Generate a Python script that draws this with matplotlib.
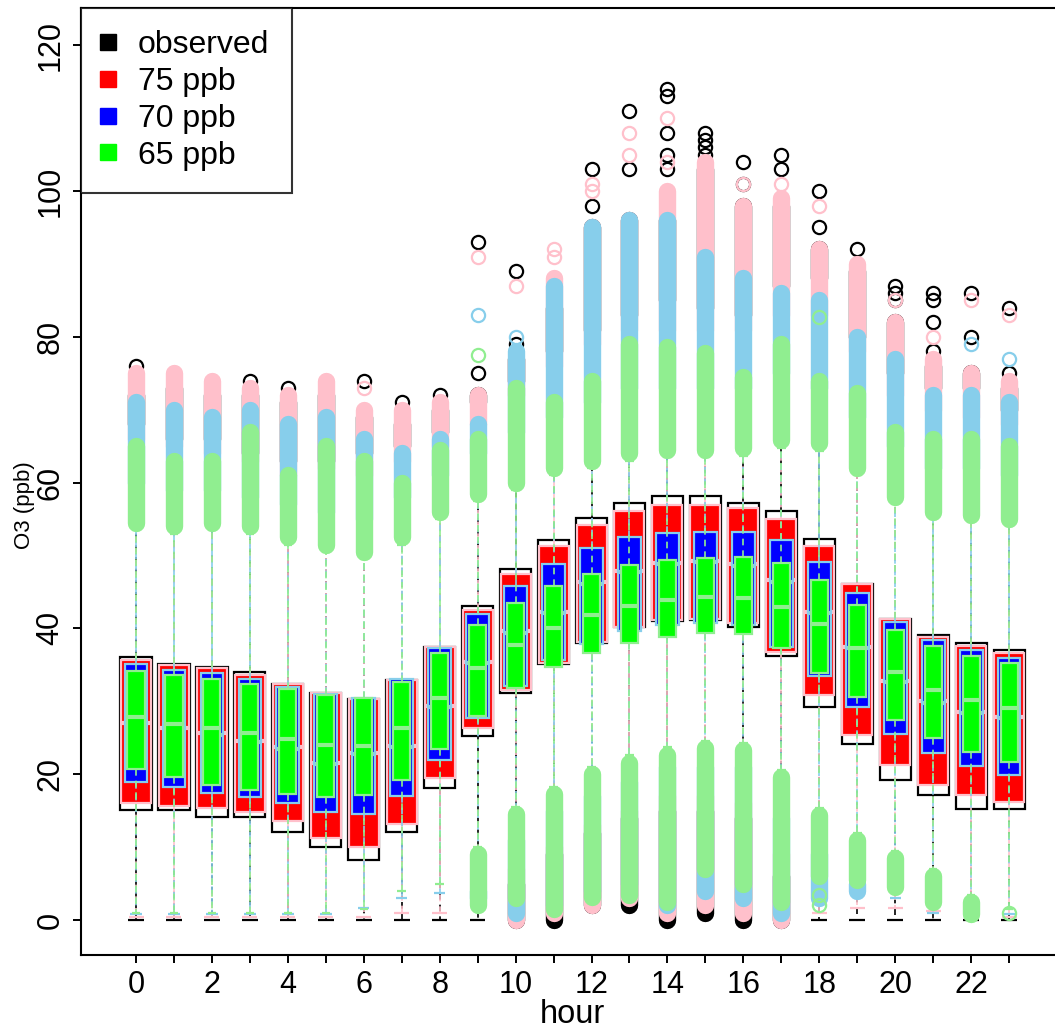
import matplotlib
matplotlib.use("Agg")
import matplotlib.pyplot as plt
from matplotlib.lines import Line2D

plt.rcParams["font.family"] = ["Liberation Sans", "DejaVu Sans"]

# Data, O3 in ppb by hour of day

hours = list(range(24))

# box stats per hour: (whisker low, q1, median, q3, whisker high)
obs_box = [
    (0, 15.1, 27.2, 36.1, 67), (0, 15.1, 26.5, 35.1, 65), (0, 14.1, 25.7, 34.7, 65),
    (0, 14.1, 24.8, 34.0, 63), (0, 12.1, 23.8, 32.4, 62), (0, 10.0, 21.8, 31.1, 62),
    (0, 8.2, 23.0, 30.3, 63), (0, 12.1, 24.0, 32.9, 64), (0, 18.1, 29.5, 37.4, 66),
    (0, 25.2, 35.5, 43.1, 70), (6, 31.1, 39.8, 48.1, 73), (10, 35.1, 42.5, 52.1, 77),
    (13, 38.0, 46.4, 55.1, 80), (15, 40.2, 48.0, 57.2, 82), (16, 41.0, 49.0, 58.2, 84),
    (16, 41.2, 49.3, 58.2, 83), (15, 40.2, 48.8, 57.2, 82), (7, 36.2, 46.6, 56.1, 86),
    (0, 29.2, 42.3, 52.3, 87), (0, 24.1, 37.5, 46.1, 79), (0, 19.2, 32.8, 41.3, 74),
    (0, 17.1, 30.0, 39.1, 72), (0, 15.2, 28.6, 38.0, 72), (0, 15.2, 27.9, 37.0, 69),
]
red_box = [
    (0.4, 16.0, 27.0, 35.7, 65), (0.4, 15.6, 26.4, 35.0, 64), (0.4, 15.4, 25.6, 34.6, 63),
    (0.4, 14.8, 24.6, 33.6, 62), (0.4, 13.6, 23.7, 32.4, 60), (0.4, 11.2, 21.6, 31.1, 61),
    (0.4, 10.0, 22.9, 30.3, 60), (1.0, 13.2, 23.9, 32.9, 62), (1.0, 19.5, 29.4, 37.4, 64),
    (2.0, 26.3, 35.4, 42.5, 67), (8, 31.6, 39.6, 47.5, 71), (11, 35.3, 42.3, 51.3, 75),
    (14, 38.1, 46.3, 54.2, 78), (16, 40.2, 47.9, 56.1, 80), (18, 41.2, 49.0, 56.9, 80),
    (18, 41.3, 49.3, 56.9, 80), (17, 40.7, 48.8, 56.5, 80), (10, 36.8, 46.6, 55.0, 82),
    (1.0, 30.9, 42.3, 51.3, 82), (1.6, 25.4, 37.5, 46.1, 77), (1.6, 21.3, 32.8, 41.3, 71),
    (1.2, 18.5, 30.0, 38.8, 69), (0.4, 17.1, 28.6, 37.6, 68), (0.4, 16.2, 27.9, 36.6, 67),
]
blue_box = [
    (0.8, 18.9, 26.8, 35.1, 59), (0.8, 18.2, 26.2, 34.3, 58), (0.8, 17.4, 25.4, 33.9, 58),
    (0.8, 16.9, 24.4, 33.1, 57), (0.8, 16.0, 23.5, 32.0, 56), (0.8, 14.8, 21.4, 31.0, 55),
    (1.6, 14.5, 22.8, 30.4, 54), (3.0, 17.0, 23.7, 33.0, 57), (3.7, 21.9, 29.2, 37.3, 60),
    (5.0, 27.7, 35.3, 42.0, 63), (12, 32.1, 39.4, 45.8, 66), (16, 35.7, 42.1, 48.8, 68),
    (18, 37.9, 46.1, 51.0, 70), (20, 39.6, 47.7, 52.5, 72), (22, 40.5, 48.8, 53.1, 72),
    (22, 40.7, 49.1, 53.2, 72), (22, 40.5, 48.6, 53.2, 72), (15, 37.4, 46.4, 52.1, 74),
    (10, 33.5, 42.1, 49.1, 72), (6, 29.2, 37.3, 44.8, 68), (3, 25.5, 32.6, 40.9, 64),
    (1, 22.9, 29.8, 38.4, 61), (0.8, 21.1, 28.4, 37.0, 61), (0.8, 19.9, 27.7, 35.9, 60),
]
green_box = [
    (1.0, 20.7, 27.8, 34.2, 53.5), (1.0, 19.6, 26.9, 33.6, 53), (1.0, 18.5, 26.3, 33.1, 53.5),
    (1.0, 17.8, 25.7, 32.4, 53), (1.0, 17.3, 24.8, 31.7, 51.5), (1.0, 16.9, 24.0, 30.9, 50.5),
    (1.5, 17.1, 23.9, 30.4, 49.5), (4.0, 19.2, 26.3, 32.7, 51.5), (5.0, 23.5, 30.5, 36.6, 55),
    (10, 28.0, 34.6, 40.5, 57.5), (15.5, 31.8, 37.7, 43.5, 59), (18.3, 34.7, 40.0, 45.8, 61),
    (21, 36.6, 41.8, 47.5, 62), (22.6, 38.0, 43.1, 48.7, 63), (23.7, 38.8, 43.9, 49.4, 63.5),
    (24.6, 39.4, 44.3, 49.7, 63.5), (24.3, 39.2, 44.2, 49.8, 63.7), (20.6, 37.3, 42.9, 49.0, 64.8),
    (15.4, 33.9, 40.6, 46.6, 64.4), (12, 30.6, 37.3, 43.2, 61), (9.5, 27.4, 34.0, 39.8, 57),
    (7, 25.0, 31.5, 37.6, 55), (3.5, 23.0, 30.2, 36.2, 54.6), (1.5, 21.7, 29.1, 35.3, 54),
]

# dense runs of outliers above the upper whisker: (from, to)
obs_up = [(68, 72), (66, 73), (66, 72), (64, 72), (63, 71), (63, 72), (64, 69), (65, 68),
          (67, 70), (71, 72), (74, 77), (78, 84), (81, 95), (83, 96), (85, 96), (84, 103),
          (83, 98), (87, 98), (88, 92), (80, 89), (75, 82), (73, 76), (73, 75), (70, 73)]
red_up = [(66, 75), (65, 75), (64, 74), (63, 73), (61, 72), (62, 74), (61, 70), (63, 70),
          (65, 71), (68, 72), (72, 77), (76, 88), (79, 95), (81, 96), (81, 100), (81, 104),
          (81, 98), (83, 99), (83, 92), (78, 90), (72, 82), (70, 77), (69, 75), (68, 74)]
blue_up = [(60, 71), (59, 70), (59, 69), (58, 70), (57, 68), (56, 69), (55, 66), (58, 64),
           (61, 66), (64, 68), (67, 78), (69, 87), (71, 95), (73, 96), (73, 96), (73, 91),
           (73, 88), (75, 86), (73, 85), (69, 80), (65, 77), (62, 72), (62, 72), (61, 71)]
green_up = [(54.5, 65), (54, 63), (54.5, 63), (54, 67), (52.5, 61), (51.5, 65), (50.5, 63),
            (52.5, 60), (56, 64.5), (58.5, 66), (60, 73), (62, 71), (63, 74), (64, 79),
            (64.5, 78.6), (64.5, 77.8), (64.7, 74.5), (65.8, 79), (65.4, 74), (62, 72.3),
            (58, 67), (56, 66), (55.6, 66), (55, 65)]

# dense runs of outliers below the lower whisker
obs_low = [None] * 10 + [(0, 5), (0, 9), (2, 12), (2, 14), (0, 15), (1, 15), (0, 14), (0, 6)] + [None] * 6
red_low = [None] * 10 + [(0, 7), (1, 10), (2, 13), (3, 15), (1, 17), (2, 17), (1, 16), (0, 9)] + [None] * 6
blue_low = [None] * 9 + [(3, 4), (1, 11), (2, 15), (4, 17), (5, 19), (2, 21), (4, 21), (3, 21),
                         (1, 14), (3, 9), (4, 5)] + [None] * 4
green_low = [None] * 9 + [(2, 9), (3, 14.5), (1.5, 17.3), (3.2, 20), (3.5, 21.6), (2.5, 22.7),
                          (7, 23.6), (5, 23.3), (2.5, 19.6), (6, 14.4), (5.5, 11), (4.5, 8.5),
                          (2.5, 6), (0.8, 2.5), None]

# single outliers standing apart
obs_fly = [[76], [75], [74], [74], [73], [74], [74], [71], [72], [75, 93], [79, 89], [88],
           [98, 103], [103, 111], [103, 105, 108, 113, 114], [105, 106, 107, 108], [101, 104],
           [103, 105], [95, 100], [92], [85, 86, 87], [78, 82, 85, 86], [80, 86], [75, 84]]
red_fly = [[], [], [], [], [], [], [73], [], [], [91], [87], [91, 92], [100, 101], [105, 108],
           [104, 110], [], [101], [101], [98], [], [85], [80], [85], [83]]
blue_fly = [[], [], [], [], [], [], [], [], [], [83], [80], [], [], [], [], [], [], [], [], [],
            [], [], [79], [77]]
green_fly = [[], [], [], [], [], [], [], [], [], [77.5], [], [], [], [], [], [], [], [], [82.7, 3.5, 2],
             [], [], [], [], [1]]

labels = ["observed", "75 ppb", "70 ppb", "65 ppb"]


fig = plt.figure(figsize=(10.55, 10.3), dpi=100)
ax = fig.add_axes([0.0764, 0.0728, 0.9326, 0.9194])

series = [
    (obs_box, obs_up, obs_low, obs_fly, "white", "black", 0.82),
    (red_box, red_up, red_low, red_fly, "#ff0000", "#ffc0cb", 0.79),
    (blue_box, blue_up, blue_low, blue_fly, "#0000ff", "#87ceeb", 0.60),
    (green_box, green_up, green_low, green_fly, "#00ff00", "#90ee90", 0.45),
]

for i, (box, up, low, fly, fill, edge, w) in enumerate(series):
    z = 2 + i * 2
    stats = [dict(whislo=b[0], q1=b[1], med=b[2], q3=b[3], whishi=b[4], fliers=[]) for b in box]
    ax.bxp(stats, positions=hours, widths=w, capwidths=w / 2, patch_artist=True,
           showfliers=False, manage_ticks=False, zorder=z,
           boxprops=dict(facecolor=fill, edgecolor=edge, linewidth=1.6),
           whiskerprops=dict(color=edge, linestyle=(0, (4, 3)), linewidth=1.2),
           capprops=dict(color=edge, linewidth=1.6, solid_capstyle="butt"),
           medianprops=dict(color=edge if i else "black", linewidth=3, solid_capstyle="butt"))

    # outlier runs
    for bands in (up, low):
        xs = [h for h, b in zip(hours, bands) if b is not None]
        lo = [b[0] for b in bands if b is not None]
        hi = [b[1] for b in bands if b is not None]
        lc = ax.vlines(xs, lo, hi, colors=edge, linewidth=12.5, zorder=z + 0.5)
        lc.set_capstyle("round")

    fx = [h for h, vals in zip(hours, fly) for v in vals]
    fy = [v for vals in fly for v in vals]
    ax.plot(fx, fy, "o", mfc="none", mec=edge, ms=9.5, mew=1.6, zorder=z + 0.6)

ax.set_xlim(-1.46, 24.46)
ax.set_ylim(-4.8, 125.1)

ax.set_xticks(hours)
ax.set_xticklabels([str(h) if h % 2 == 0 else "" for h in hours], fontsize=22)
ax.set_yticks(range(0, 121, 20))
ax.set_yticklabels([str(v) for v in range(0, 121, 20)], fontsize=22, rotation=90, va="center")
ax.tick_params(direction="out", length=6, width=1.4, pad=5)
ax.set_xlabel("hour", fontsize=23.5)
ax.xaxis.set_label_coords(0.5, -0.046)
ax.set_ylabel("O3 (ppb)", fontsize=16)
ax.yaxis.set_label_coords(-0.046, 0.475)
for s in ax.spines.values():
    s.set_linewidth(1.5)

handles = [Line2D([], [], marker="s", linestyle="none", ms=11.5, mfc=c, mec=c)
           for c in ["black", "#ff0000", "#0000ff", "#00ff00"]]
leg = ax.legend(handles, labels, loc="upper left", bbox_to_anchor=(0, 1), borderaxespad=0,
                fontsize=23, frameon=True, fancybox=False, borderpad=0.7,
                handlelength=0.32, handletextpad=0.78, labelspacing=0.21)
leg.get_frame().set_edgecolor("black")
leg.get_frame().set_linewidth(1.5)
leg.set_zorder(20)

fig.savefig("out.png", dpi=100)
